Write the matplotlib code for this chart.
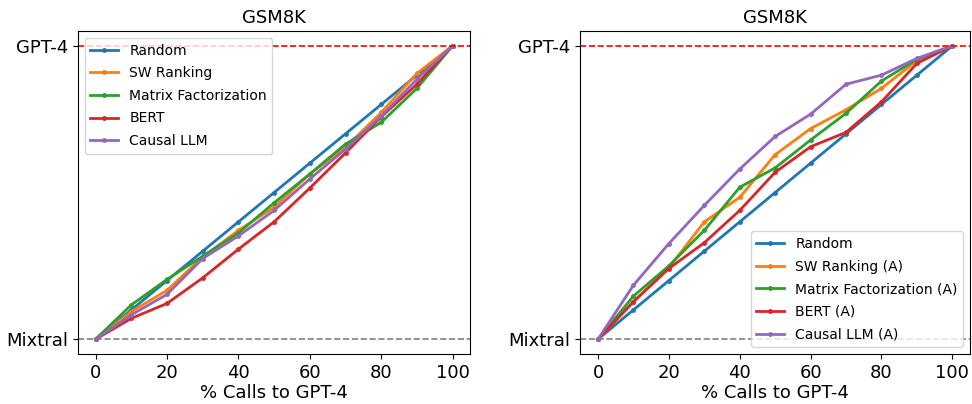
import matplotlib.pyplot as plt

calls = [0, 10, 20, 30, 40, 50, 60, 70, 80, 90, 100]

random_rt = [0, 0.1, 0.2, 0.3, 0.4, 0.5, 0.6, 0.7, 0.8, 0.9, 1.0]

# left panel
sw_ranking = [0, 0.094, 0.167, 0.28, 0.371, 0.45, 0.563, 0.654, 0.773, 0.906, 1.0]
matrix_fact = [0, 0.117, 0.204, 0.283, 0.362, 0.465, 0.563, 0.665, 0.739, 0.855, 1.0]
bert = [0, 0.071, 0.122, 0.209, 0.307, 0.40, 0.515, 0.635, 0.758, 0.869, 1.0]
causal_llm = [0, 0.083, 0.153, 0.275, 0.352, 0.439, 0.546, 0.648, 0.761, 0.886, 1.0]

# right panel (augmented)
sw_ranking_a = [0, 0.128, 0.244, 0.40, 0.484, 0.629, 0.718, 0.782, 0.855, 0.95, 1.0]
matrix_fact_a = [0, 0.147, 0.25, 0.371, 0.518, 0.584, 0.679, 0.77, 0.88, 0.954, 1.0]
bert_a = [0, 0.128, 0.241, 0.329, 0.439, 0.569, 0.656, 0.705, 0.809, 0.94, 1.0]
causal_llm_a = [0, 0.184, 0.326, 0.456, 0.58, 0.691, 0.767, 0.869, 0.90, 0.957, 1.0]

left_names = ["Random", "SW Ranking", "Matrix Factorization", "BERT", "Causal LLM"]
right_names = ["Random", "SW Ranking (A)", "Matrix Factorization (A)", "BERT (A)", "Causal LLM (A)"]

fig = plt.figure(figsize=(9.72, 4.04), dpi=100)
ax1 = fig.add_axes([0.080, 0.124, 0.404, 0.799])
ax2 = fig.add_axes([0.597, 0.124, 0.401, 0.799])

panels = [
    (ax1, [random_rt, sw_ranking, matrix_fact, bert, causal_llm], left_names, "upper left"),
    (ax2, [random_rt, sw_ranking_a, matrix_fact_a, bert_a, causal_llm_a], right_names, "lower right"),
]

for ax, series, names, loc in panels:
    for vals, name in zip(series, names):
        ax.plot(calls, vals, marker=".", markersize=5, linewidth=2, label=name)
    ax.axhline(1.0, color="red", linestyle="--", linewidth=1.2)
    ax.axhline(0.0, color="gray", linestyle="--", linewidth=1.2)
    ax.set_title("GSM8K", fontsize=13)
    ax.set_xlabel("% Calls to GPT-4", fontsize=13, labelpad=2)
    ax.set_yticks([0, 1])
    ax.set_yticklabels(["Mixtral", "GPT-4"])
    ax.set_xticks([0, 20, 40, 60, 80, 100])
    ax.tick_params(labelsize=13)
    ax.legend(loc=loc, fontsize=10, labelspacing=0.62)

plt.savefig("out.png", dpi=100)
